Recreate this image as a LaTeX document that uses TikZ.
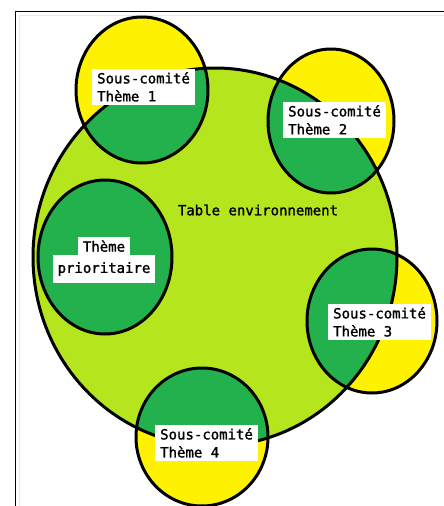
\documentclass[tikz,border=0pt]{standalone}
\usepackage{fontspec}
\newfontfamily\labelfont[RawFeature={embolden=1.4}]{DejaVu Sans Mono}
\usetikzlibrary{positioning}
\definecolor{tableLime}{RGB}{181,230,29}
\definecolor{themeGreen}{RGB}{34,177,76}
\definecolor{themeYellow}{RGB}{255,242,0}
\definecolor{frameGrey}{RGB}{228,234,244}
\tikzset{
    outline/.style={draw=black, line width=3pt},
    label box/.style={fill=white, align=left, inner xsep=5pt, inner ysep=3pt,
        font=\labelfont\fontsize{14}{18}\selectfont}
}

\begin{document}
\begin{tikzpicture}[x=1pt, y=-1pt]
    \useasboundingbox (0,0) rectangle (444,506);
    \coordinate (table) at (215,257);
    \coordinate (theme1) at (142,90);
    \coordinate (theme2) at (331,121);
    \coordinate (theme3) at (372,321);
    \coordinate (theme4) at (202,437);
    \coordinate (prio) at (105,257);
    \def\tablecircle{(table) ellipse [x radius=182, y radius=189]}
    \def\firstcircle{(theme1) ellipse [x radius=66, y radius=73]}
    \def\secondcircle{(theme2) ellipse [x radius=63, y radius=72]}
    \def\thirdcircle{(theme3) ellipse [x radius=65, y radius=72]}
    \def\fourthcircle{(theme4) ellipse [x radius=66, y radius=69]}
    \def\priocircle{(prio) ellipse [x radius=67, y radius=77]}

    % Frame of the page
    \draw[frameGrey] (19,506) -- (19,15) -- (444,15);
    \draw[line width=1pt] (15,506) -- (15,11) -- (444,11);

    % Table and sub-committees
    \fill[tableLime] \tablecircle;
    \fill[themeYellow] \firstcircle \secondcircle \thirdcircle \fourthcircle;
    \begin{scope}
        \clip \tablecircle;
        \fill[themeGreen] \firstcircle \secondcircle \thirdcircle \fourthcircle;
    \end{scope}
    \fill[themeGreen] \priocircle;
    \draw[outline] \tablecircle;
    \draw[outline] \firstcircle \secondcircle \thirdcircle \fourthcircle \priocircle;

    % Labels
    \node[font=\labelfont\fontsize{14}{18}\selectfont] (tablelabel) at (258,210) {Table environnement};
    \node[label box, anchor=north west] (label1) at (92,69) {Sous-comité\\Thème 1};
    \node[label box, anchor=north west] (label2) at (283,102) {Sous-comité\\Thème 2};
    \node[label box, anchor=north west] (label3) at (328,304) {Sous-comité\\Thème 3};
    \node[label box, anchor=north west] (label4) at (155,425) {Sous-comité\\Thème 4};
    \node[label box, inner ysep=7pt, align=center] (prio2) at (104,269) {prioritaire};
    \node[label box, inner ysep=3pt, above=0pt of prio2] (prio1) {Thème};
\end{tikzpicture}
\end{document}
